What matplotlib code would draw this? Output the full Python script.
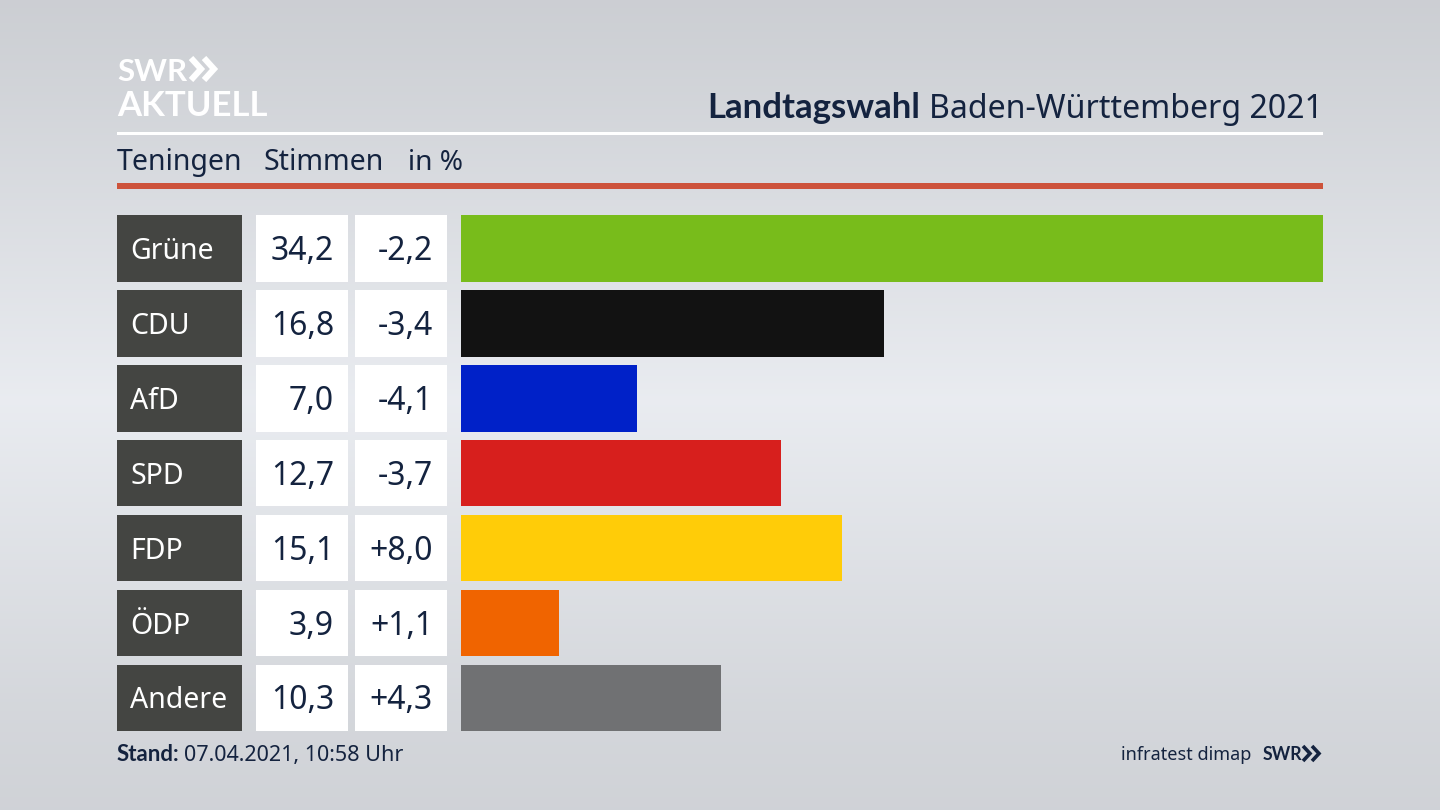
import numpy as np
import matplotlib
matplotlib.use("Agg")
import matplotlib.pyplot as plt
from matplotlib.patches import Rectangle

parties = ["Grüne", "CDU", "AfD", "SPD", "FDP", "ÖDP", "Andere"]
shares = [34.2, 16.8, 7.0, 12.7, 15.1, 3.9, 10.3]
changes = ["-2,2", "-3,4", "-4,1", "-3,7", "+8,0", "+1,1", "+4,3"]
colors = ["#78bc1b", "#121212", "#0021c8", "#d71f1d", "#ffcc08", "#f06400", "#707173"]

W, H = 1440, 810
DARK = "#14233f"
BOLD = ['Lato', 'DejaVu Sans']
plt.rcParams['font.family'] = ['Noto Sans', 'DejaVu Sans']

fig = plt.figure(figsize=(W / 100, H / 100), dpi=100)

# background and all the frame stuff, in pixel coordinates
ax = fig.add_axes([0, 0, 1, 1])
ax.set_xlim(0, W)
ax.set_ylim(H, 0)
ax.axis("off")

stops_y = [0, 100, 400, 700, 810]
stops_v = [0.800, 0.825, 0.915, 0.835, 0.815]
grad = np.interp(np.arange(H), stops_y, stops_v)
grad = np.stack([grad, grad + 0.010, grad + 0.028], axis=-1)
ax.imshow(np.clip(grad, 0, 1)[:, None, :], extent=[0, W, H, 0], aspect="auto", zorder=0)

ax.add_patch(Rectangle((117, 132), 1206, 3, color="white", lw=0, zorder=1))
ax.add_patch(Rectangle((117, 183), 1206, 6, color="#cd533b", lw=0, zorder=1))

# logo
ax.text(117, 81, "SWR", family=BOLD, fontsize=22.5, fontweight="bold", color="white", va="baseline", zorder=2)
ax.text(117, 116, "AKTUELL", family=BOLD, fontsize=25, fontweight="bold", color="white", va="baseline", zorder=2)
for x0 in [191, 204]:
    ax.plot([x0, x0 + 10, x0], [58, 69, 80], color="white", lw=4.4, solid_joinstyle="miter", solid_capstyle="butt", zorder=2)

# title
t = ax.text(1323, 118, "Baden-Württemberg 2021", fontsize=23.1, color=DARK, ha="right", va="baseline", zorder=2)
fig.canvas.draw()
left = t.get_window_extent().x0
ax.text(left - 9, 118, "Landtagswahl", family=BOLD, fontsize=25, fontweight="bold", color=DARK, ha="right", va="baseline", zorder=2)

# sub header
ax.text(117, 170, "Teningen", fontsize=20.5, color=DARK, va="baseline", zorder=2)
ax.text(263.5, 170, "Stimmen", fontsize=20.5, color=DARK, va="baseline", zorder=2)
ax.text(408, 170, "in %", fontsize=20.2, color=DARK, va="baseline", zorder=2)

# table cells next to the bars
top, bottom = 215.2, 731.2
h = 0.887
pitch = (bottom - top) / (len(parties) - 1 + h)
cell_h = h * pitch
for i, party in enumerate(parties):
    y = top + i * pitch
    base = y + cell_h / 2 + 11.5
    ax.add_patch(Rectangle((117, y), 124.5, cell_h, color="#444542", lw=0, zorder=1))
    ax.add_patch(Rectangle((255.5, y), 92.5, cell_h, color="white", lw=0, zorder=1))
    ax.add_patch(Rectangle((354.5, y), 92.5, cell_h, color="white", lw=0, zorder=1))
    ax.text(130.5, base - 1, party, fontsize=20.5, color="white", va="baseline", zorder=2)
    ax.text(334, base, f"{shares[i]:.1f}".replace(".", ","), fontsize=23, color=DARK, ha="right", va="baseline", zorder=2)
    ax.text(433, base, changes[i], fontsize=23, color=DARK, ha="right", va="baseline", zorder=2)

# footer
st = ax.text(117, 761, "Stand:", family=BOLD, fontsize=16, fontweight="bold", color=DARK, va="baseline", zorder=2)
x_end = st.get_window_extent(fig.canvas.get_renderer()).x1
ax.text(x_end + 4, 761, "07.04.2021, 10:58 Uhr", fontsize=15.5, color=DARK, va="baseline", zorder=2)
ax.text(1251, 760, "infratest dimap", fontsize=13, color=DARK, ha="right", va="baseline", zorder=2)
ax.text(1263, 760.5, "SWR", family=BOLD, fontsize=12.8, fontweight="bold", color=DARK, va="baseline", zorder=2)
for x0 in [1303, 1312]:
    ax.plot([x0, x0 + 7, x0], [746, 753.5, 761], color=DARK, lw=2.6, solid_joinstyle="miter", solid_capstyle="butt", zorder=2)

# the bars
ax_bar = fig.add_axes([461 / W, 1 - bottom / H, (1323 - 461) / W, (bottom - top) / H])
ax_bar.patch.set_alpha(0)
ax_bar.barh(range(len(parties)), shares, height=h, color=colors)
ax_bar.set_xlim(0, max(shares))
ax_bar.set_ylim(len(parties) - 1 + h / 2, -h / 2)
ax_bar.axis("off")

fig.savefig("out.png", dpi=100)
